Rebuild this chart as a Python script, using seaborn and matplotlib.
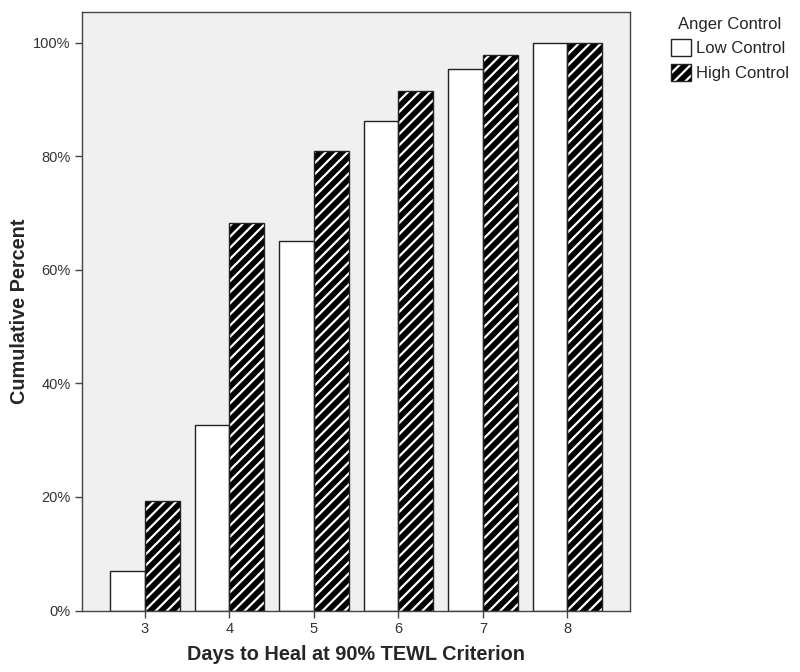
import numpy as np
import pandas as pd
import seaborn as sns
import matplotlib.pyplot as plt
from matplotlib.patches import Patch
from matplotlib.ticker import FuncFormatter

# Data
days = ['3', '4', '5', '6', '7', '8']
low_control = [7.0, 32.7, 65.1, 86.2, 95.3, 100.0]
high_control = [19.3, 68.2, 80.9, 91.5, 97.9, 100.0]
groups = ['Low Control', 'High Control']
y_ticks = [0, 20, 40, 60, 80, 100]

df = pd.DataFrame({
    'day': days * 2,
    'pct': low_control + high_control,
    'group': [groups[0]] * len(days) + [groups[1]] * len(days),
})

sns.set_style('white')
plt.rcParams['font.family'] = ['Liberation Sans', 'DejaVu Sans']
plt.rcParams['hatch.linewidth'] = 1.6

fig = plt.figure(figsize=(8, 6.72), dpi=100)
ax = fig.add_axes([0.103, 0.0915, 0.6845, 0.8905])
ax.set_facecolor('#f0f0f0')

pal = {'Low Control': 'white', 'High Control': 'black'}
sns.barplot(data=df, x='day', y='pct', hue='group', order=days, hue_order=groups,
            palette=pal, width=0.82, gap=0, linewidth=0, saturation=1,
            errorbar=None, legend=False, ax=ax)

# white stripes on the black bars
n = len(days)
for p in ax.patches[n:2 * n]:
    p.set_edgecolor('white')
    p.set_hatch('///')
    p.set_linewidth(0)

# outlines
sns.barplot(data=df, x='day', y='pct', hue='group', order=days, hue_order=groups,
            palette={'Low Control': '#222222', 'High Control': '#222222'},
            width=0.82, gap=0, fill=False, linewidth=1, errorbar=None,
            legend=False, ax=ax)

ax.set_xlim(-0.74, 5.74)
ax.set_ylim(0, 105.4)
ax.set_yticks(y_ticks)
ax.yaxis.set_major_formatter(FuncFormatter(lambda v, _: f'{v:.0f}%'))
ax.tick_params(axis='both', direction='out', length=5, width=1, color='#444444',
               labelsize=10.5, labelcolor='#333333', left=True, bottom=True)
for s in ax.spines.values():
    s.set_color('#444444')
    s.set_linewidth(1)

ax.set_xlabel('Days to Heal at 90% TEWL Criterion', fontsize=14.3, fontweight='bold', labelpad=6)
ax.set_ylabel('Cumulative Percent', fontsize=14.3, fontweight='bold', labelpad=3)

handles = [
    Patch(facecolor='white', edgecolor='#222222', linewidth=1),
    (Patch(facecolor='black', edgecolor='white', hatch='///', linewidth=0),
     Patch(fill=False, edgecolor='#222222', linewidth=1)),
]
leg = fig.legend(handles, groups, title='Anger Control', loc='upper left',
                 bbox_to_anchor=(0.83, 0.985), frameon=False, fontsize=12,
                 title_fontsize=12, handlelength=1.2, handleheight=1.2,
                 handletextpad=0.35, labelspacing=0.45, borderaxespad=0)

fig.savefig('out.png', dpi=100)
